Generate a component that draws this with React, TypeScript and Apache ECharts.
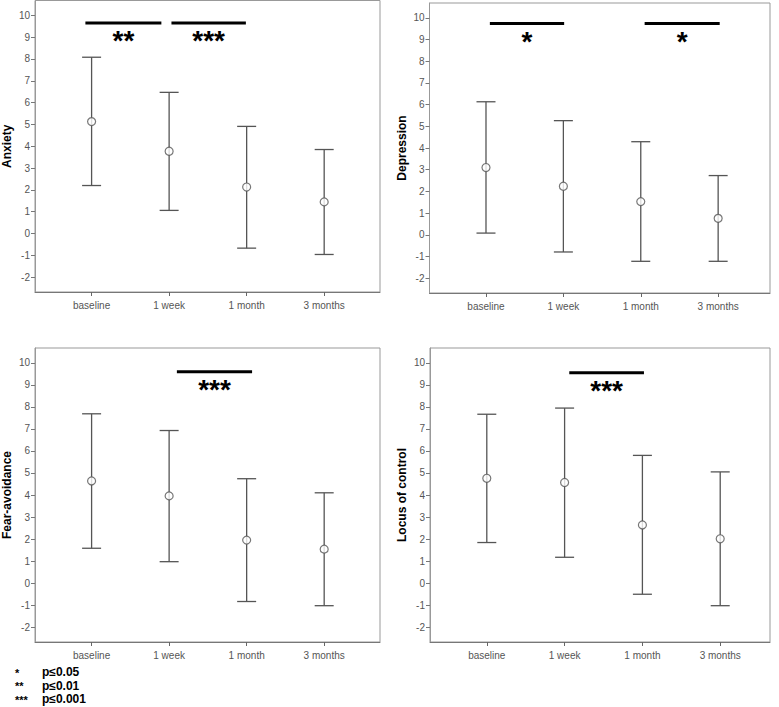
import React, { useEffect, useRef } from "react";
import * as echarts from "echarts";

const categories = ["baseline", "1 week", "1 month", "3 months"];
const yTicks = [-2, -1, 0, 1, 2, 3, 4, 5, 6, 7, 8, 9, 10];
const panelNames = ["Anxiety", "Depression", "Fear-avoidance", "Locus of control"];

const anxietyMean = [5.13, 3.77, 2.13, 1.45];
const anxietyLow = [2.2, 1.06, -0.67, -0.96];
const anxietyHigh = [8.08, 6.47, 4.91, 3.85];

const depressionMean = [3.1, 2.24, 1.53, 0.76];
const depressionLow = [0.08, -0.79, -1.22, -1.22];
const depressionHigh = [6.13, 5.26, 4.29, 2.73];

const fearMean = [4.64, 3.96, 1.95, 1.54];
const fearLow = [1.58, 0.97, -0.84, -1.03];
const fearHigh = [7.69, 6.93, 4.74, 4.1];

const locusMean = [4.76, 4.57, 2.64, 2.01];
const locusLow = [1.84, 1.17, -0.51, -1.03];
const locusHigh = [7.67, 7.95, 5.8, 5.05];

// significance bars: [from, to, level]
const anxietySig = [[-0.08, 0.9, 9.65], [1.03, 1.99, 9.65]];
const anxietyStars = ["**", "***"];
const depressionSig = [[0.05, 1.01, 9.74], [2.05, 3.02, 9.74]];
const depressionStars = ["*", "*"];
const fearSig = [[1.1, 2.07, 9.6]];
const fearStars = ["***"];
const locusSig = [[1.06, 2.02, 9.56]];
const locusStars = ["***"];

const legendStars = ["*", "**", "***"];
const legendTexts = ["p≤0.05", "p≤0.01", "p≤0.001"];

const FONT = "'Liberation Sans', Arial, sans-serif";

export default function App() {
  const ref = useRef<HTMLDivElement>(null);
  useEffect(() => {
    document.body.style.margin = "0";
    if (!ref.current) return;
    const chart = echarts.init(ref.current, null, { renderer: "svg" });

    const panels = [
      { mean: anxietyMean, low: anxietyLow, high: anxietyHigh, sig: anxietySig, stars: anxietyStars },
      { mean: depressionMean, low: depressionLow, high: depressionHigh, sig: depressionSig, stars: depressionStars },
      { mean: fearMean, low: fearLow, high: fearHigh, sig: fearSig, stars: fearStars },
      { mean: locusMean, low: locusLow, high: locusHigh, sig: locusSig, stars: locusStars },
    ];

    const grids = [
      { left: 33, top: 0.5, width: 347, height: 291.5 },
      { left: 429.5, top: 3, width: 340.5, height: 290 },
      { left: 33, top: 348, width: 347, height: 294 },
      { left: 430, top: 348, width: 340, height: 294 },
    ];
    const xMax = [3.72, 3.67, 3.72, 3.64];

    const xAxis: any[] = [];
    const yAxis: any[] = [];
    const series: any[] = [];

    panels.forEach((p, i) => {
      xAxis.push({
        type: "value",
        gridIndex: i,
        min: -0.73,
        max: xMax[i],
        splitLine: { show: false },
        axisLine: { show: true, onZero: false, lineStyle: { color: "#777", width: 1 } },
        axisTick: { show: true, length: 4, customValues: [0, 1, 2, 3], lineStyle: { color: "#666" } },
        axisLabel: {
          customValues: [0, 1, 2, 3],
          formatter: (v: number) => categories[Math.round(v)] ?? "",
          color: "#555",
          fontSize: 10,
          fontFamily: FONT,
          margin: 8,
        },
      });
      yAxis.push({
        type: "value",
        gridIndex: i,
        min: -2.68,
        max: 10.68,
        name: panelNames[i],
        nameLocation: "middle",
        nameGap: 22,
        nameTextStyle: { color: "#000", fontWeight: "bold", fontSize: 12, fontFamily: FONT },
        splitLine: { show: false },
        axisLine: { show: true, onZero: false, lineStyle: { color: "#999", width: 1 } },
        axisTick: { show: true, length: 4, customValues: yTicks, lineStyle: { color: "#777" } },
        axisLabel: {
          customValues: yTicks,
          color: "#555",
          fontSize: 10,
          fontFamily: FONT,
          margin: 5,
        },
      });

      series.push({
        type: "custom",
        xAxisIndex: i,
        yAxisIndex: i,
        encode: { x: 0, y: [1, 2] },
        data: p.mean.map((_, k) => [k, p.low[k], p.high[k]]),
        renderItem: (params: any, api: any) => {
          const x = api.value(0);
          const lo = api.coord([x, api.value(1)]);
          const hi = api.coord([x, api.value(2)]);
          const half = 9.5;
          const st = { stroke: "#555", lineWidth: 1.3 };
          return {
            type: "group",
            children: [
              { type: "line", shape: { x1: lo[0], y1: lo[1], x2: hi[0], y2: hi[1] }, style: st },
              { type: "line", shape: { x1: lo[0] - half, y1: lo[1], x2: lo[0] + half, y2: lo[1] }, style: st },
              { type: "line", shape: { x1: hi[0] - half, y1: hi[1], x2: hi[0] + half, y2: hi[1] }, style: st },
            ],
          };
        },
        z: 2,
      });

      series.push({
        type: "scatter",
        xAxisIndex: i,
        yAxisIndex: i,
        data: p.mean.map((m, k) => [k, m]),
        symbol: "circle",
        symbolSize: 8,
        itemStyle: { color: "#fff", borderColor: "#555", borderWidth: 1.2 },
        z: 3,
      });

      series.push({
        type: "custom",
        xAxisIndex: i,
        yAxisIndex: i,
        encode: { x: [0, 1], y: 2 },
        data: p.sig,
        renderItem: (params: any, api: any) => {
          const a = api.coord([api.value(0), api.value(2)]);
          const b = api.coord([api.value(1), api.value(2)]);
          return {
            type: "group",
            children: [
              { type: "line", shape: { x1: a[0], y1: a[1], x2: b[0], y2: b[1] }, style: { stroke: "#000", lineWidth: 3 } },
              {
                type: "text",
                x: (a[0] + b[0]) / 2,
                y: a[1] + 18,
                style: {
                  text: p.stars[params.dataIndex],
                  fill: "#000",
                  font: `bold 28px ${FONT}`,
                  align: "center",
                  verticalAlign: "middle",
                },
              },
            ],
          };
        },
        z: 4,
      });
    });

    const graphic: any[] = [];
    legendStars.forEach((s, k) => {
      graphic.push({
        type: "text",
        left: 15,
        top: 667 + k * 13.5,
        style: { text: s, fill: "#000", font: `bold 11px ${FONT}` },
      });
      graphic.push({
        type: "text",
        left: 42,
        top: 666 + k * 13.5,
        style: { text: legendTexts[k], fill: "#000", font: `bold 12px ${FONT}` },
      });
    });

    chart.setOption({
      animation: false,
      backgroundColor: "#fff",
      grid: grids.map((g) => ({ ...g, show: true, borderColor: "#999", borderWidth: 1, backgroundColor: "transparent" })),
      xAxis,
      yAxis,
      series,
      graphic,
    });
    return () => chart.dispose();
  }, []);
  return <div ref={ref} style={{ width: 779, height: 707 }} />;
}
